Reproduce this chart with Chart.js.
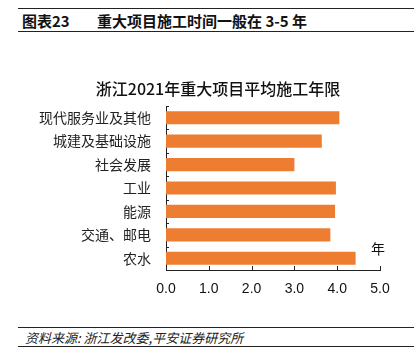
<!DOCTYPE html>
<html lang="zh">
<head>
  <meta charset="UTF-8">
  <title>重大项目施工时间</title>
  <style>
    body {
      margin: 0;
      padding: 0;
      width: 420px;
      height: 364px;
      background: #fff;
      position: relative;
      overflow: hidden;
      font-family: "Noto Sans CJK SC", "Liberation Sans", sans-serif;
    }
    .rule {
      position: absolute;
      left: 18px;
      width: 396px;
      height: 0;
      border-top: 1.5px solid #222;
    }
    .header {
      position: absolute;
      top: 11px;
      left: 22px;
      font-size: 15px;
      font-weight: bold;
      color: #111;
      line-height: 20px;
      white-space: nowrap;
    }
    .header span { display: inline-block; }
    .footer {
      position: absolute;
      top: 329px;
      left: 25px;
      font-size: 13px;
      font-style: italic;
      color: #222;
      line-height: 18px;
      white-space: nowrap;
    }
    .chart-box {
      position: absolute;
      left: 0;
      top: 40px;
      width: 420px;
      height: 275px;
    }
  </style>
</head>
<body>
  <div class="rule" style="top:8px"></div>
  <div class="header"><span style="width:75px">图表23</span><span>重大项目施工时间一般在 3-5 年</span></div>
  <div class="rule" style="top:31px"></div>

  <div class="chart-box">
    <canvas id="barChart" width="420" height="275"></canvas>
  </div>

  <div class="rule" style="top:327px"></div>
  <div class="footer">资料来源: 浙江发改委,平安证券研究所</div>
  <div class="rule" style="top:346px"></div>

  <script src="https://cdn.jsdelivr.net/npm/chart.js"></script>
  <script>
    // données
    const categories = ['现代服务业及其他', '城建及基础设施', '社会发展', '工业', '能源', '交通、邮电', '农水'];
    const years = [4.05, 3.64, 3.0, 3.97, 3.95, 3.84, 4.43];
    const xTicks = [0, 1, 2, 3, 4, 5];

    const chartTitle = '浙江2021年重大项目平均施工年限';
    const unitLabel = '年';

    // titre, petites graduations vers l'intérieur + unité "年"
    const extras = {
      id: 'extras',
      afterDraw(chart) {
        const ctx = chart.ctx;
        const area = chart.chartArea;
        const x = chart.scales.x;
        ctx.save();
        ctx.strokeStyle = '#222';
        ctx.lineWidth = 1;
        ctx.beginPath();
        xTicks.forEach(v => {
          const px = Math.round(x.getPixelForValue(v)) + 0.5;
          ctx.moveTo(px, area.bottom);
          ctx.lineTo(px, area.bottom - 4);
        });
        const n = categories.length;
        const step = (area.bottom - area.top) / n;
        for (let i = 0; i < n; i++) {
          const py = Math.round(area.top + i * step) + 0.5;
          ctx.moveTo(area.left, py);
          ctx.lineTo(area.left + 3, py);
        }
        ctx.stroke();

        ctx.fillStyle = '#111';
        ctx.textAlign = 'center';
        ctx.textBaseline = 'middle';
        ctx.font = '14px "Noto Sans CJK SC"';
        ctx.fillText(unitLabel, area.right - 2, area.bottom - 21);

        ctx.font = '500 16px "Noto Sans CJK SC"';
        ctx.fillText(chartTitle, 218, area.top - 17);
        ctx.restore();
      }
    };

    const ctx = document.getElementById('barChart').getContext('2d');
    new Chart(ctx, {
      type: 'bar',
      data: {
        labels: categories,
        datasets: [{
          data: years,
          backgroundColor: '#ED7D31',
          borderWidth: 0,
          barPercentage: 0.56,
          categoryPercentage: 1
        }]
      },
      options: {
        indexAxis: 'y',
        responsive: false,
        animation: false,
        layout: {
          padding: { top: 66, right: 40, left: 0, bottom: 0 }
        },
        scales: {
          x: {
            min: 0,
            max: 5,
            afterBuildTicks: scale => {
              scale.ticks = xTicks.map(v => ({ value: v }));
            },
            afterFit: scale => { scale.height = 45; },
            grid: { display: false, drawTicks: false },
            border: { display: true, color: '#222', width: 1 },
            ticks: {
              padding: 11,
              color: '#111',
              callback: value => value.toFixed(1),
              font: { family: 'Liberation Sans', size: 14 }
            }
          },
          y: {
            afterFit: scale => { scale.width = 166; },
            grid: { display: false, drawTicks: false },
            border: { display: true, color: '#222', width: 1 },
            ticks: {
              padding: 15,
              color: '#222',
              font: { family: 'Noto Sans CJK SC', size: 14 }
            }
          }
        },
        plugins: {
          legend: { display: false },
          tooltip: { enabled: false },
          title: { display: false }
        }
      },
      plugins: [extras]
    });
  </script>
</body>
</html>
